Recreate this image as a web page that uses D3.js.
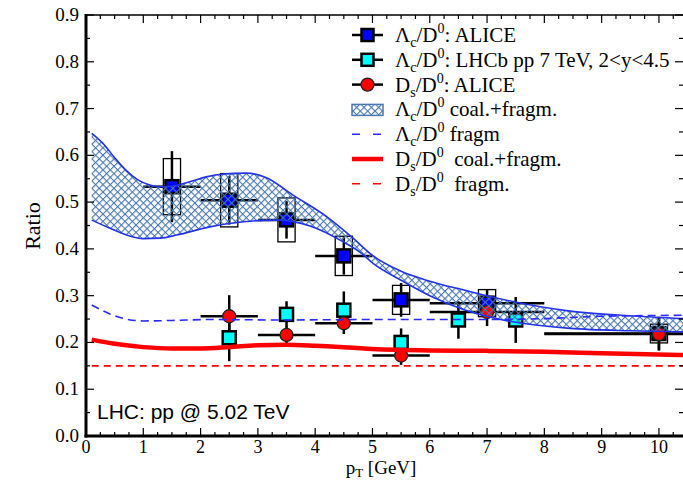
<!DOCTYPE html>
<html><head><meta charset="utf-8">
<script src="https://cdn.jsdelivr.net/npm/d3@7"></script>
<style>body{margin:0;background:#fff}svg{display:block}</style>
</head><body>
<script>
// ---------- data ----------
const lcAliceX    = [1.5, 2.5, 3.5, 4.5, 5.5, 7, 10];
const lcAliceY    = [0.533, 0.504, 0.462, 0.385, 0.291, 0.284, 0.219];
const lcAliceXlo  = [1, 2, 3, 4, 5, 6, 8];
const lcAliceXhi  = [2, 3, 4, 5, 6, 8, 12];
const lcAliceStat = [0.076, 0.052, 0.04, 0.04, 0.036, 0.03, 0.036];
const lcAliceSys  = [0.06, 0.057, 0.047, 0.042, 0.031, 0.029, 0.02];

const lhcbX   = [2.5, 3.5, 4.5, 5.5, 6.5, 7.5];
const lhcbY   = [0.21, 0.26, 0.269, 0.2, 0.248, 0.248];
const lhcbErr = [0.05, 0.028, 0.04, 0.03, 0.04, 0.049];

const dsAliceX    = [2.5, 3.5, 4.5, 5.5, 7, 10];
const dsAliceY    = [0.256, 0.216, 0.241, 0.172, 0.265, 0.218];
const dsAliceXlo  = [2, 3, 4, 5, 6, 8];
const dsAliceXhi  = [3, 4, 5, 6, 8, 12];
const dsAliceStat = [0.045, 0.018, 0.023, 0.02, 0.03, 0.035];

const bandUpX = [0.1, 0.3, 0.5, 0.7, 0.9, 1.1, 1.3, 1.5, 1.8, 2.1, 2.4, 2.8, 3.15, 3.6, 4.2, 4.66, 5.0, 5.5, 6.0, 6.6, 7.2, 8.45, 9.5, 10.42];
const bandUpY = [0.647, 0.625, 0.595, 0.568, 0.548, 0.537, 0.533, 0.534, 0.543, 0.554, 0.56, 0.562, 0.552, 0.516, 0.469, 0.423, 0.386, 0.352, 0.331, 0.312, 0.294, 0.267, 0.257, 0.251];
const bandLoX = [0.1, 0.42, 0.7, 1.0, 1.3, 1.58, 2.16, 2.75, 3.33, 3.91, 4.49, 4.78, 5.01, 5.5, 6.0, 6.6, 7.2, 8.45, 9.5, 10.42];
const bandLoY = [0.4615, 0.444, 0.43, 0.422, 0.423, 0.4295, 0.447, 0.458, 0.4615, 0.449, 0.415, 0.393, 0.369, 0.333, 0.3, 0.27, 0.25, 0.23, 0.225, 0.223];

const lcFragX = [0.1, 0.4, 0.7, 1.0, 1.5, 2.2, 3.4, 5.0, 7.0, 8.0, 9.0, 10.42];
const lcFragY = [0.28, 0.262, 0.25, 0.246, 0.247, 0.249, 0.248, 0.249, 0.249, 0.251, 0.256, 0.258];

const dsCoalX = [0.1, 0.5, 1.0, 1.5, 2.0, 2.5, 3.0, 3.5, 4.0, 5.0, 6.0, 7.0, 8.0, 9.0, 10.42];
const dsCoalY = [0.206, 0.197, 0.19, 0.187, 0.187, 0.19, 0.194, 0.195, 0.193, 0.186, 0.183, 0.182, 0.18, 0.177, 0.173];

const dsFragX = [0.1, 10.42];
const dsFragY = [0.15, 0.15];

const xTicks = [0,1,2,3,4,5,6,7,8,9,10];
const yTicks = [0,0.1,0.2,0.3,0.4,0.5,0.6,0.7,0.8,0.9];

const legendLabels = [
  ["Λ","c","/D","0",": ALICE"],
  ["Λ","c","/D","0",": LHCb pp 7 TeV, 2<y<4.5"],
  ["D","s","/D","0",": ALICE"],
  ["Λ","c","/D","0"," coal.+fragm."],
  ["Λ","c","/D","0"," fragm"],
  ["D","s","/D","0","  coal.+fragm."],
  ["D","s","/D","0","  fragm."]
];

// ---------- setup ----------
const W = 683, H = 481;
const L = 86, R = 683, T = 15, B = 436;
const x = d3.scaleLinear().domain([0, 10.42]).range([L, R]);
const y = d3.scaleLinear().domain([0, 0.9]).range([B, T]);
const serif = "'Liberation Serif','Times New Roman','DejaVu Serif',serif";

const svg = d3.select("body").append("svg").attr("width", W).attr("height", H);
const defs = svg.append("defs");
const pat = defs.append("pattern").attr("id","hatch").attr("patternUnits","userSpaceOnUse")
  .attr("width",5.2).attr("height",5.2).attr("patternTransform","rotate(45)");
pat.append("line").attr("x1",0).attr("y1",0).attr("x2",0).attr("y2",5.2).attr("stroke","#4a78b2").attr("stroke-width",2.2);
pat.append("line").attr("x1",0).attr("y1",0).attr("x2",5.2).attr("y2",0).attr("stroke","#4a78b2").attr("stroke-width",2.2);
defs.append("clipPath").attr("id","clip").append("rect").attr("x",L).attr("y",T).attr("width",R-L).attr("height",B-T);

const plot = svg.append("g").attr("clip-path","url(#clip)");

// ---------- data points ----------
const lcA = lcAliceX.map((v,i)=>({x:v,y:lcAliceY[i],lo:lcAliceXlo[i],hi:lcAliceXhi[i],s:lcAliceStat[i],sy:lcAliceSys[i]}));
const lhc = lhcbX.map((v,i)=>({x:v,y:lhcbY[i],e:lhcbErr[i]}));
const dsA = dsAliceX.map((v,i)=>({x:v,y:dsAliceY[i],lo:dsAliceXlo[i],hi:dsAliceXhi[i],s:dsAliceStat[i]}));

plot.selectAll(".sys").data(lcA).enter().append("rect")
  .attr("x",d=>x(d.x-0.15)).attr("width",d=>x(d.x+0.15)-x(d.x-0.15))
  .attr("y",d=>y(d.y+d.sy)).attr("height",d=>y(d.y-d.sy)-y(d.y+d.sy))
  .attr("fill","none").attr("stroke","#000").attr("stroke-width",1.3);

function errs(data, hasX){
  const g = plot.append("g").attr("stroke","#000").attr("stroke-width",2.5);
  if(hasX) g.selectAll(".h").data(data).enter().append("line")
    .attr("x1",d=>x(d.lo)).attr("x2",d=>x(d.hi)).attr("y1",d=>y(d.y)).attr("y2",d=>y(d.y));
  g.selectAll(".v").data(data).enter().append("line")
    .attr("x1",d=>x(d.x)).attr("x2",d=>x(d.x))
    .attr("y1",d=>y(d.y+(d.s!==undefined?d.s:d.e))).attr("y2",d=>y(d.y-(d.s!==undefined?d.s:d.e)));
}
errs(lhc,false);
errs(dsA,true);
errs(lcA,true);

plot.selectAll(".lhcb").data(lhc).enter().append("rect")
  .attr("x",d=>x(d.x)-6.5).attr("y",d=>y(d.y)-6.5).attr("width",13).attr("height",13)
  .attr("fill","#00ffff").attr("stroke","#000").attr("stroke-width",2.5);
plot.selectAll(".lca").data(lcA).enter().append("rect")
  .attr("x",d=>x(d.x)-6.5).attr("y",d=>y(d.y)-6.5).attr("width",13).attr("height",13)
  .attr("fill","#0000ff").attr("stroke","#000").attr("stroke-width",2.5);
plot.selectAll(".dsa").data(dsA).enter().append("circle")
  .attr("cx",d=>x(d.x)).attr("cy",d=>y(d.y)).attr("r",6.5)
  .attr("fill","#ff0000").attr("stroke","#222").attr("stroke-width",1.3);

// ---------- band ----------
const upPts = bandUpX.map((v,i)=>[v,bandUpY[i]]);
const loPts = bandLoX.map((v,i)=>[v,bandLoY[i]]);
const lineGen = d3.line().x(d=>x(d[0])).y(d=>y(d[1])).curve(d3.curveMonotoneX);
const upPath = lineGen(upPts);
const loPathRev = lineGen(loPts.slice().reverse());
plot.append("path").attr("d", upPath + "L" + loPathRev.slice(1) + "Z")
  .attr("fill","url(#hatch)").attr("stroke","none");
plot.append("path").attr("d",upPath).attr("fill","none").attr("stroke","#2233e8").attr("stroke-width",1.6);
plot.append("path").attr("d",lineGen(loPts)).attr("fill","none").attr("stroke","#2233e8").attr("stroke-width",1.6);

// ---------- curves ----------
plot.append("path").attr("d",lineGen(lcFragX.map((v,i)=>[v,lcFragY[i]])))
  .attr("fill","none").attr("stroke","#2a2aff").attr("stroke-width",1.6).attr("stroke-dasharray","8,5");
plot.append("path").attr("d",lineGen(dsCoalX.map((v,i)=>[v,dsCoalY[i]])))
  .attr("fill","none").attr("stroke","#ff0000").attr("stroke-width",4.5);
plot.append("path").attr("d",d3.line().x(d=>x(d[0])).y(d=>y(d[1]))(dsFragX.map((v,i)=>[v,dsFragY[i]])))
  .attr("fill","none").attr("stroke","#ff0000").attr("stroke-width",1.6).attr("stroke-dasharray","7,5");

// ---------- axes / frame ----------
const ax = svg.append("g").attr("stroke","#000");
const xMinor = d3.range(0, 10.5, 0.25);
const yMinor = d3.range(0, 0.901, 0.05);
xMinor.forEach(v=>{
  const major = Math.abs(v-Math.round(v))<1e-6;
  const len = major?8:4;
  ax.append("line").attr("x1",x(v)).attr("x2",x(v)).attr("y1",B).attr("y2",B-len).attr("stroke-width",1.2);
  ax.append("line").attr("x1",x(v)).attr("x2",x(v)).attr("y1",T).attr("y2",T+len).attr("stroke-width",1.2);
});
yMinor.forEach(v=>{
  const major = Math.abs(v*10-Math.round(v*10))<1e-6;
  const len = major?8:4;
  ax.append("line").attr("x1",L).attr("x2",L+len).attr("y1",y(v)).attr("y2",y(v)).attr("stroke-width",1.2);
  ax.append("line").attr("x1",R).attr("x2",R-len).attr("y1",y(v)).attr("y2",y(v)).attr("stroke-width",1.2);
});
ax.append("line").attr("x1",L).attr("x2",R+2).attr("y1",T).attr("y2",T).attr("stroke-width",1.5);
ax.append("line").attr("x1",L).attr("x2",L).attr("y1",T-1).attr("y2",B+1.5).attr("stroke-width",3);
ax.append("line").attr("x1",L-1.5).attr("x2",R+2).attr("y1",B).attr("y2",B).attr("stroke-width",3);

svg.append("g").selectAll("text").data(yTicks).enter().append("text")
  .attr("x",L-7).attr("y",d=>y(d)+6).attr("text-anchor","end")
  .style("font-family",serif).style("font-size","19px").text(d=>d.toFixed(1));
svg.append("g").selectAll("text").data(xTicks).enter().append("text")
  .attr("x",d=>x(d)).attr("y",B+17).attr("text-anchor","middle")
  .style("font-family",serif).style("font-size","18px").text(d=>d);

svg.append("text").attr("transform","translate(40,226) rotate(-90)").attr("text-anchor","middle")
  .style("font-family",serif).style("font-size","22px").text("Ratio");
const xl = svg.append("text").attr("x",381).attr("y",474).attr("text-anchor","middle")
  .style("font-family",serif).style("font-size","19px");
xl.append("tspan").text("p");
xl.append("tspan").style("font-size","13px").attr("dy",3).text("T");
xl.append("tspan").attr("dy",-3).text(" [GeV]");

svg.append("text").attr("x",97).attr("y",419).style("font-family","'Liberation Sans',Arial,sans-serif")
  .style("font-size","21px").text("LHC: pp @ 5.02 TeV");

// ---------- legend ----------
const lg = svg.append("g");
const ly0 = 35, ldy = 24.8, lx1 = 352, lx2 = 383, ltx = 395;
legendLabels.forEach((parts,i)=>{
  const yy = ly0 + i*ldy;
  const t = lg.append("text").attr("x",ltx).attr("y",yy+7).style("font-family",serif).style("font-size","21px").style("white-space","pre");
  t.append("tspan").text(parts[0]);
  t.append("tspan").style("font-size","14px").attr("dy",5).text(parts[1]);
  t.append("tspan").attr("dy",-5).text(parts[2]);
  t.append("tspan").style("font-size","14px").attr("dy",-9).text(parts[3]);
  t.append("tspan").attr("dy",9).text(parts[4]);
  if(i<3){
    lg.append("line").attr("x1",lx1).attr("x2",lx2).attr("y1",yy).attr("y2",yy).attr("stroke","#000").attr("stroke-width",2.5);
  }
  if(i===0||i===1){
    lg.append("rect").attr("x",(lx1+lx2)/2-6).attr("y",yy-6).attr("width",12).attr("height",12)
      .attr("fill",i===0?"#0000ff":"#00ffff").attr("stroke","#000").attr("stroke-width",2.5);
  } else if(i===2){
    lg.append("circle").attr("cx",(lx1+lx2)/2).attr("cy",yy).attr("r",6.5).attr("fill","#ff0000").attr("stroke","#222").attr("stroke-width",1.3);
  } else if(i===3){
    lg.append("rect").attr("x",lx1).attr("y",yy-5).attr("width",lx2-lx1).attr("height",11)
      .attr("fill","url(#hatch)").attr("stroke","#4a78b2").attr("stroke-width",1.5);
  } else if(i===4){
    lg.append("line").attr("x1",lx1).attr("x2",lx2).attr("y1",yy).attr("y2",yy).attr("stroke","#2a2aff").attr("stroke-width",1.6).attr("stroke-dasharray","8,13");
  } else if(i===5){
    lg.append("line").attr("x1",lx1).attr("x2",lx2).attr("y1",yy).attr("y2",yy).attr("stroke","#ff0000").attr("stroke-width",4.5);
  } else {
    lg.append("line").attr("x1",lx1).attr("x2",lx2).attr("y1",yy).attr("y2",yy).attr("stroke","#ff0000").attr("stroke-width",1.6).attr("stroke-dasharray","8,13");
  }
});
</script>
</body></html>
